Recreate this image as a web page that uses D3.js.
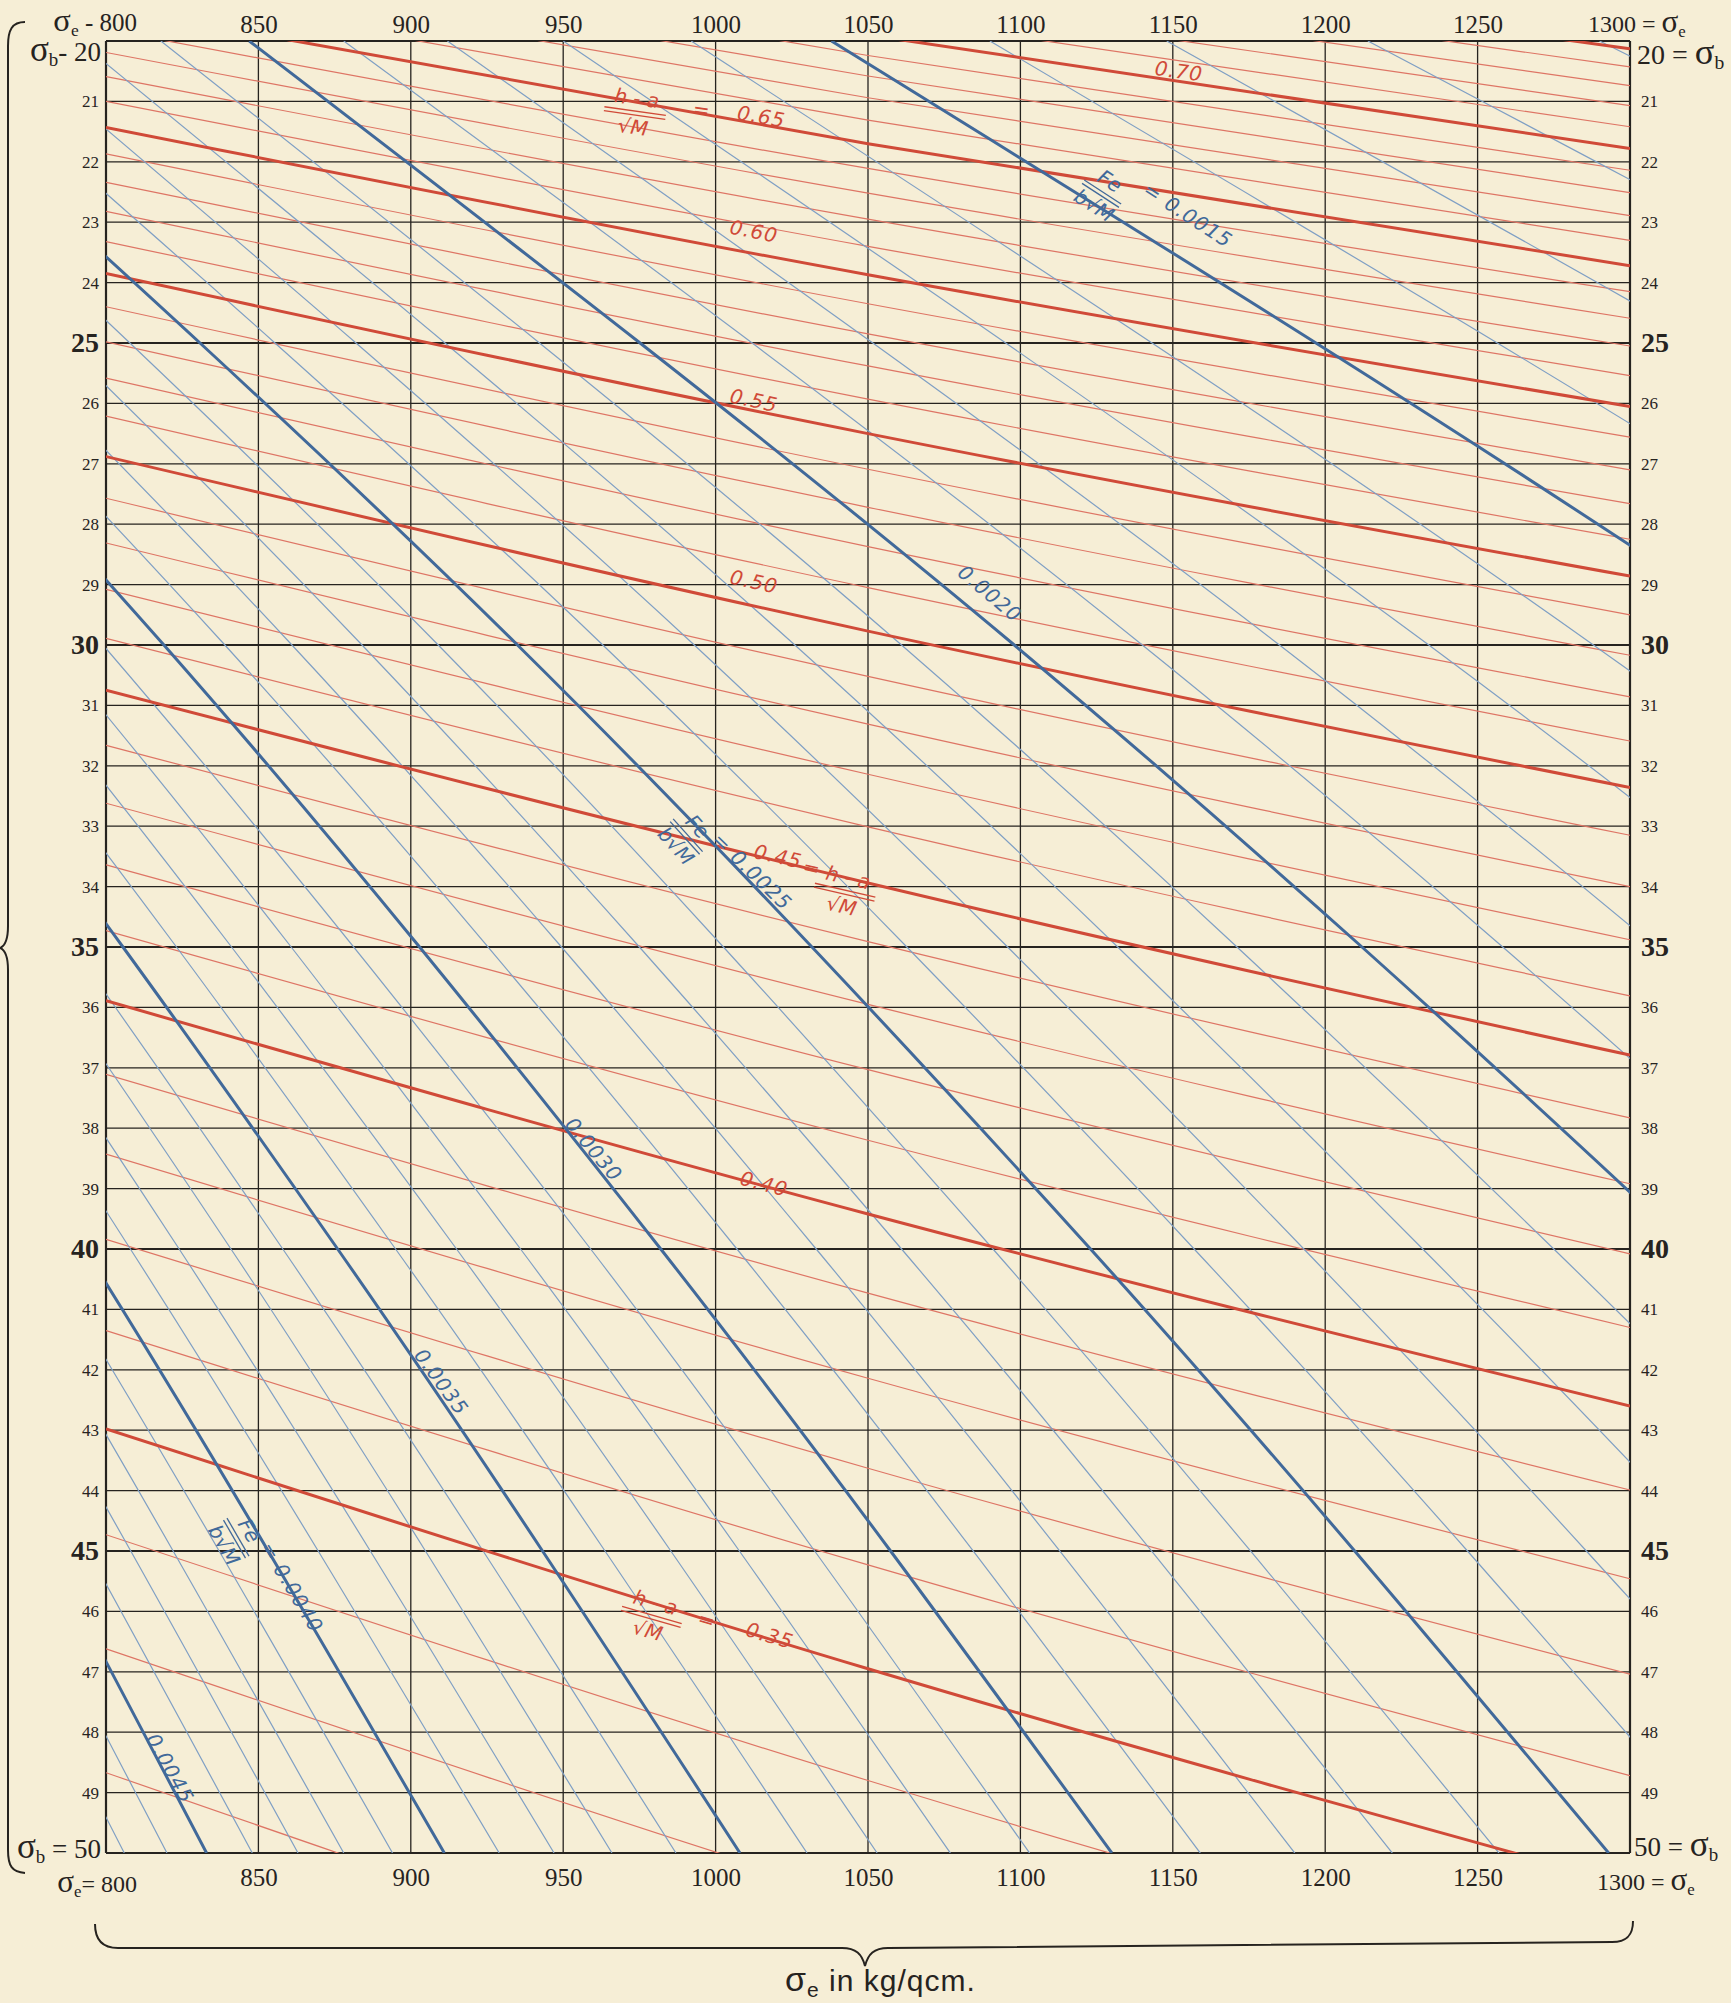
<!DOCTYPE html>
<html>
<head>
<meta charset="utf-8">
<script src="https://cdn.jsdelivr.net/npm/d3@7"></script>
<style>
  body { margin: 0; background: #f6eed6; }
  svg { display: block; }
  .tick text { font-family: "Liberation Serif", serif; fill: #26231f; }
  .note { font-family: "DejaVu Sans", sans-serif; font-style: italic; font-size: 20px; }
</style>
</head>
<body>
<script>
var width = 1731
var height = 2003

var sigmaE = [800, 850, 900, 950, 1000, 1050, 1100, 1150, 1200, 1250, 1300]
var sigmaB = [20, 21, 22, 23, 24, 25, 26, 27, 28, 29, 30, 31, 32, 33, 34, 35,
  36, 37, 38, 39, 40, 41, 42, 43, 44, 45, 46, 47, 48, 49, 50]
var majorB = [25, 30, 35, 40, 45]

// (h-a)/VM lines: sigma_b where each one meets sigma_e = 800, 1050 and 1300
var redLevels = [0.32, 0.33, 0.34, 0.35, 0.36, 0.37, 0.38, 0.39, 0.40, 0.41, 0.42,
  0.43, 0.44, 0.45, 0.46, 0.47, 0.48, 0.49, 0.50, 0.51, 0.52, 0.53, 0.54, 0.55,
  0.56, 0.57, 0.58, 0.59, 0.60, 0.61, 0.62, 0.63, 0.64, 0.65, 0.66, 0.67, 0.68,
  0.69, 0.70, 0.71, 0.72, 0.73, 0.74, 0.75]
var redAt800 = [48.67, 46.62, 44.73, 42.98, 41.35, 39.84, 38.43, 37.11, 35.89, 34.73,
  33.64, 32.62, 31.66, 30.75, 29.89, 29.08, 28.31, 27.57, 26.88, 26.21, 25.58, 24.98,
  24.40, 23.85, 23.32, 22.82, 22.34, 21.87, 21.43, 21.00, 20.59, 20.19, 19.81, 19.44,
  19.09, 18.75, 18.42, 18.10, 17.80, 17.49, 17.21, 16.93, 16.66, 16.40]
var redAt1050 = [52.95, 50.79, 48.80, 46.95, 45.23, 43.63, 42.14, 40.73, 39.42, 38.20,
  37.03, 35.95, 34.91, 33.94, 33.01, 32.14, 31.31, 30.52, 29.77, 29.05, 28.37, 27.72,
  27.09, 26.50, 25.93, 25.38, 24.85, 24.35, 23.87, 23.40, 22.95, 22.52, 22.11, 21.70,
  21.31, 20.94, 20.58, 20.24, 19.90, 19.57, 19.25, 18.94, 18.65, 18.37]
var redAt1300 = [56.82, 54.56, 52.47, 50.53, 48.72, 47.04, 45.46, 43.99, 42.60, 41.30,
  40.08, 38.92, 37.83, 36.79, 35.81, 34.88, 34.00, 33.15, 32.36, 31.59, 30.86, 30.17,
  29.50, 28.86, 28.25, 27.66, 27.10, 26.56, 26.05, 25.54, 25.05, 24.59, 24.15, 23.72,
  23.30, 22.89, 22.51, 22.14, 21.78, 21.42, 21.07, 20.74, 20.43, 20.13]

// Fe/bVM lines: sigma_e where each one meets sigma_b = 20, 30, 40 and 50
var blueLevels = [0.0011, 0.0012, 0.0013, 0.0014, 0.0015, 0.0016, 0.0017, 0.0018,
  0.0019, 0.0020, 0.0021, 0.0022, 0.0023, 0.0024, 0.0025, 0.0026, 0.0027, 0.0028,
  0.0029, 0.0030, 0.0031, 0.0032, 0.0033, 0.0034, 0.0035, 0.0036, 0.0037, 0.0038,
  0.0039, 0.0040, 0.0041, 0.0042, 0.0043, 0.0044, 0.0045, 0.0046, 0.0047]
var blueAt20 = [1290, 1214, 1148, 1090, 1038, 992, 950, 912, 878, 847, 818, 791, 766,
  743, 722, 702, 683, 665, 648, 633, 618, 604, 590, 578, 566, 554, 543, 533, 522, 513,
  504, 495, 486, 478, 470, 463, 455]
var blueAt30 = [1679, 1579, 1493, 1416, 1349, 1288, 1234, 1185, 1140, 1098, 1061, 1026,
  993, 963, 935, 909, 884, 861, 839, 819, 799, 781, 763, 747, 731, 716, 702, 688, 675,
  662, 650, 639, 627, 617, 606, 596, 587]
var blueAt40 = [2023, 1902, 1798, 1705, 1623, 1550, 1484, 1425, 1370, 1320, 1275, 1232,
  1193, 1157, 1123, 1091, 1061, 1033, 1007, 982, 959, 936, 915, 895, 876, 858, 841, 824,
  808, 793, 778, 764, 751, 738, 726, 714, 702]
var blueAt50 = [2337, 2197, 2075, 1969, 1874, 1789, 1712, 1643, 1580, 1522, 1469, 1420,
  1375, 1333, 1293, 1257, 1222, 1190, 1159, 1130, 1103, 1077, 1053, 1030, 1008, 987, 966,
  947, 929, 911, 894, 878, 863, 848, 833, 820, 806]

var red = "#d04a38", redThin = "#de7565"
var blue = "#41699a", blueThin = "#7f9fc4"
var ink = "#26231f"

var x = d3.scaleLinear().domain([800, 1300]).range([106, 1630])
var y = d3.scaleLinear().domain([20, 50]).range([41, 1853])

var svg = d3.select("body").append("svg").attr("width", width).attr("height", height)
svg.append("rect").attr("width", width).attr("height", height).attr("fill", "#f6eed6")

svg.append("defs").append("clipPath").attr("id", "plot")
  .append("rect")
  .attr("x", x(800)).attr("y", y(20))
  .attr("width", x(1300) - x(800)).attr("height", y(50) - y(20))

// grid
var grid = svg.append("g").attr("stroke", ink)
grid.selectAll(".v").data(sigmaE).join("line")
  .attr("x1", d => x(d)).attr("x2", d => x(d))
  .attr("y1", y(20)).attr("y2", y(50))
  .attr("stroke-width", d => (d == 800 || d == 1300) ? 2.2 : 1.3)
grid.selectAll(".h").data(sigmaB).join("line")
  .attr("x1", x(800)).attr("x2", x(1300))
  .attr("y1", d => y(d)).attr("y2", d => y(d))
  .attr("stroke-width", d => (d == 20 || d == 50) ? 2.2 : majorB.includes(d) ? 1.9 : 1.2)

var curves = svg.append("g").attr("clip-path", "url(#plot)").attr("fill", "none")

var redLine = d3.line().x(d => x(d[0])).y(d => y(d[1])).curve(d3.curveMonotoneX)
var blueLine = d3.line().x(d => x(d[0])).y(d => y(d[1])).curve(d3.curveMonotoneY)

var reds = redLevels.map((v, i) => ({
  thick: Math.round(v * 100) % 5 == 0,
  pts: [[800, redAt800[i]], [1050, redAt1050[i]], [1300, redAt1300[i]]]
}))
var blues = blueLevels.map((v, i) => ({
  thick: Math.round(v * 10000) % 5 == 0,
  pts: [[blueAt20[i], 20], [blueAt30[i], 30], [blueAt40[i], 40], [blueAt50[i], 50]]
}))

curves.selectAll(".rt").data(reds.filter(d => !d.thick)).join("path")
  .attr("d", d => redLine(d.pts)).attr("stroke", redThin).attr("stroke-width", 1.2)
curves.selectAll(".bt").data(blues.filter(d => !d.thick)).join("path")
  .attr("d", d => blueLine(d.pts)).attr("stroke", blueThin).attr("stroke-width", 1.2)
curves.selectAll(".rk").data(reds.filter(d => d.thick)).join("path")
  .attr("d", d => redLine(d.pts)).attr("stroke", red).attr("stroke-width", 3)
curves.selectAll(".bk").data(blues.filter(d => d.thick)).join("path")
  .attr("d", d => blueLine(d.pts)).attr("stroke", blue).attr("stroke-width", 3)

// axes (labels only)
function style(g) {
  g.select(".domain").remove()
  g.selectAll(".tick line").remove()
}
var fmt = d3.format("d")
svg.append("g").attr("transform", `translate(0,${y(20)})`)
  .call(d3.axisTop(x).tickValues(sigmaE.slice(1, -1)).tickFormat(fmt).tickSize(0).tickPadding(8))
  .call(style).selectAll("text").attr("font-size", 25)
svg.append("g").attr("transform", `translate(0,${y(50)})`)
  .call(d3.axisBottom(x).tickValues(sigmaE.slice(1, -1)).tickFormat(fmt).tickSize(0).tickPadding(15))
  .call(style).selectAll("text").attr("font-size", 25)
svg.append("g").attr("transform", `translate(${x(800)},0)`)
  .call(d3.axisLeft(y).tickValues(sigmaB.slice(1, -1)).tickFormat(fmt).tickSize(0).tickPadding(7))
  .call(style).selectAll("text")
  .attr("font-size", d => majorB.includes(d) ? 28 : 17)
  .attr("font-weight", d => majorB.includes(d) ? "bold" : "normal")
svg.append("g").attr("transform", `translate(${x(1300)},0)`)
  .call(d3.axisRight(y).tickValues(sigmaB.slice(1, -1)).tickFormat(fmt).tickSize(0).tickPadding(11))
  .call(style).selectAll("text")
  .attr("font-size", d => majorB.includes(d) ? 28 : 17)
  .attr("font-weight", d => majorB.includes(d) ? "bold" : "normal")

// corner labels: text before sigma, subscript, text after
function corner(px, py, anchor, size, before, sub, after) {
  var t = svg.append("text").attr("x", px).attr("y", py).attr("text-anchor", anchor)
    .attr("font-family", "Liberation Serif, serif").attr("font-size", size).attr("fill", ink)
  if (before) t.append("tspan").text(before)
  t.append("tspan").attr("font-size", size * 1.3).text("σ")
  t.append("tspan").attr("font-size", size * 0.7).attr("dy", 5).text(sub)
  t.append("tspan").attr("dy", -5).text(after || "")
}
corner(137, 31, "end", 25, "", "e", " - 800")
corner(101, 61, "end", 27, "", "b", "- 20")
corner(1588, 32, "start", 24, "1300 = ", "e")
corner(1637, 64, "start", 28, "20 = ", "b")
corner(101, 1858, "end", 27, "", "b", " = 50")
corner(137, 1892, "end", 24, "", "e", "= 800")
corner(1634, 1856, "start", 27, "50 = ", "b")
corner(1597, 1890, "start", 24, "1300 = ", "e")

// braces
svg.append("path").attr("fill", "none").attr("stroke", ink).attr("stroke-width", 2)
  .attr("d", "M25,22 C12,22 8,30 8,46 L8,926 C8,940 5,946 0,948 C5,950 8,956 8,970 L8,1850 C8,1866 12,1872 25,1873")
svg.append("path").attr("fill", "none").attr("stroke", ink).attr("stroke-width", 2)
  .attr("d", "M95,1924 C95,1940 102,1948 118,1948 L842,1948 C856,1948 862,1954 865,1966 C868,1954 874,1948 888,1948 L1612,1942 C1628,1942 1633,1934 1633,1921")
var title = svg.append("text").attr("x", 785).attr("y", 1991)
  .attr("font-family", "Liberation Sans, sans-serif").attr("font-size", 30)
  .attr("letter-spacing", 1).attr("fill", ink)
title.append("tspan").attr("font-size", 34).text("σ")
title.append("tspan").attr("font-size", 21).attr("dy", 6).text("e")
title.append("tspan").attr("dy", -6).text(" in kg/qcm.")

// line labels
var redNotes = [
  {text: "0.70", se: 1152, sb: 20.5, angle: 8},
  {frac: ["h - a", "√M"], se: 973.6, sb: 21.16, angle: 8},
  {text: "=", se: 995.5, sb: 21.14, angle: 8},
  {text: "0.65", se: 1015, sb: 21.25, angle: 10},
  {text: "0.60", se: 1012.6, sb: 23.15, angle: 11},
  {text: "0.55", se: 1012.6, sb: 25.95, angle: 12},
  {text: "0.50", se: 1012.6, sb: 28.95, angle: 12.5},
  {text: "0.45", se: 1020.5, sb: 33.5, angle: 13},
  {text: "=", se: 1031.6, sb: 33.69, angle: 13},
  {frac: ["h - a", "√M"], se: 1042.5, sb: 34.06, angle: 13},
  {text: "0.40", se: 1015.9, sb: 38.92, angle: 15},
  {frac: ["h - a", "√M"], se: 979.1, sb: 46.06, angle: 16},
  {text: "=", se: 997.2, sb: 46.14, angle: 16},
  {text: "0.35", se: 1017.8, sb: 46.4, angle: 16}
]
var blueNotes = [
  {frac: ["Fe", "b√M"], se: 1127, sb: 22.5, angle: 33},
  {text: "= 0.0015", se: 1155, sb: 22.88, angle: 33},
  {text: "0.0020", se: 1090, sb: 29.15, angle: 40},
  {frac: ["Fe", "b√M"], se: 990.9, sb: 33.15, angle: 48},
  {text: "= 0.0025", se: 1012, sb: 33.75, angle: 44},
  {text: "0.0030", se: 960, sb: 38.35, angle: 50},
  {text: "0.0035", se: 910, sb: 42.2, angle: 54},
  {frac: ["Fe", "b√M"], se: 843.3, sb: 44.77, angle: 60},
  {text: "= 0.0040", se: 861, sb: 45.6, angle: 59},
  {text: "0.0045", se: 821, sb: 48.6, angle: 61}
]

function notes(list, color) {
  var g = svg.append("g").attr("class", "note").attr("fill", color).attr("text-anchor", "middle")
  list.forEach(n => {
    var h = g.append("g").attr("transform", `translate(${x(n.se)},${y(n.sb)}) rotate(${n.angle})`)
    if (n.frac) {
      var w = n.frac[0].length > 2 ? 62 : 44
      h.append("text").attr("y", -6).text(n.frac[0])
      h.selectAll("line").data([0, 4]).join("line")
        .attr("x1", -w / 2).attr("x2", w / 2).attr("y1", d => d).attr("y2", d => d)
        .attr("stroke", color).attr("stroke-width", 1.3)
      h.append("text").attr("y", 23).text(n.frac[1])
    } else {
      h.append("text").attr("dy", "0.35em").attr("letter-spacing", 1).text(n.text)
    }
  })
}
notes(redNotes, red)
notes(blueNotes, blue)
</script>
</body>
</html>
